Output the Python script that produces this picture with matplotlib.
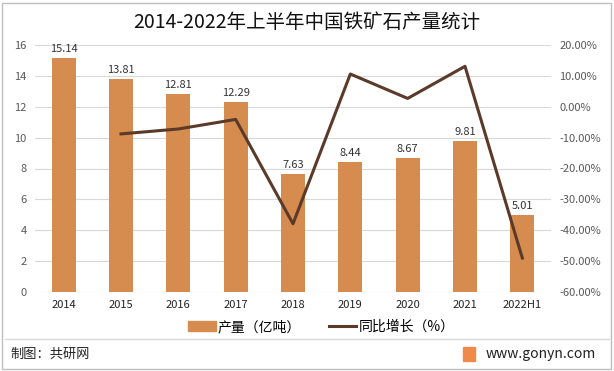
import matplotlib
matplotlib.use('Agg')
import matplotlib.pyplot as plt
from matplotlib.patches import Rectangle
from matplotlib.lines import Line2D
from matplotlib.ticker import FuncFormatter

plt.rcParams['font.family'] = ['Noto Sans CJK SC', 'DejaVu Sans']

years = ['2014', '2015', '2016', '2017', '2018', '2019', '2020', '2021', '2022H1']
output = [15.14, 13.81, 12.81, 12.29, 7.63, 8.44, 8.67, 9.81, 5.01]
growth_years = ['2015', '2016', '2017', '2018', '2019', '2020', '2021', '2022H1']
growth = [-8.8, -7.2, -4.1, -37.9, 10.6, 2.7, 13.1, -49.0]

bar_color = '#D58C4E'
line_color = '#5B3A29'
tick_color = '#595959'

fig = plt.figure(figsize=(6.14, 3.71), dpi=100)
ax = fig.add_axes([35/614, 1-292/371, 516/614, 247/371])
ax2 = ax.twinx()

x = list(range(len(years)))
ax.bar(x, output, width=0.42, color=bar_color, zorder=2)
for xi, v in zip(x, output):
    ax.text(xi, v + 0.25, f'{v:.2f}', ha='center', va='bottom', fontsize=8, color='#333333')

gx = [years.index(y) for y in growth_years]
ax2.plot(gx, growth, color=line_color, lw=2.2, zorder=3)

ax.set_xlim(-0.5, len(years) - 0.5)
ax.set_ylim(0, 16)
ax.set_yticks(range(0, 17, 2))
ax2.set_ylim(-60, 20)
ax2.set_yticks(range(-60, 21, 10))
ax2.yaxis.set_major_formatter(FuncFormatter(lambda v, p: f'{v:.2f}%'))
ax.set_xticks(x)
ax.set_xticklabels(years)

ax.grid(axis='y', color='#D9D9D9', lw=0.8, zorder=0)
ax.set_axisbelow(True)
for a in (ax, ax2):
    for s in a.spines.values():
        s.set_visible(False)
    a.tick_params(length=0, labelsize=8, colors=tick_color)
ax.tick_params(axis='x', pad=6, colors='#222222')
ax.tick_params(axis='y', pad=6)
ax2.tick_params(axis='y', pad=6)

fig.text(0.5, 1-22/371, '2014-2022年上半年中国铁矿石产量统计', ha='center', va='center',
         fontsize=14, color='#111111')

handles = [Rectangle((0, 0), 1, 1, color=bar_color),
           Line2D([], [], color=line_color, lw=2.2)]
fig.legend(handles, ['产量（亿吨）', '同比增长（%）'], loc='center', ncol=2,
           bbox_to_anchor=(0.523, 1-327/371), frameon=False, fontsize=10,
           handlelength=2.0, columnspacing=2.0, handletextpad=0.15)

# frame and footer
fig.add_artist(Rectangle((2/614, 2/371), 609/614, 366/371, transform=fig.transFigure,
                         fill=False, ec='#BFBFBF', lw=1))
fig.add_artist(Line2D([5/614, 609/614], [1-339/371, 1-339/371], transform=fig.transFigure,
                      color='#D9D9D9', lw=1))
fig.text(10/614, 1-354/371, '制图：共研网', ha='left', va='center', fontsize=9.5, color='#222222')
fig.add_artist(Rectangle((463/614, 1-361/371), 12/614, 14/371, transform=fig.transFigure,
                         color='#F08A4B'))
fig.text(596/614, 1-354/371, 'www.gonyn.com', ha='right', va='center', fontsize=10, color='#222222')

fig.savefig('out.png', dpi=100)
